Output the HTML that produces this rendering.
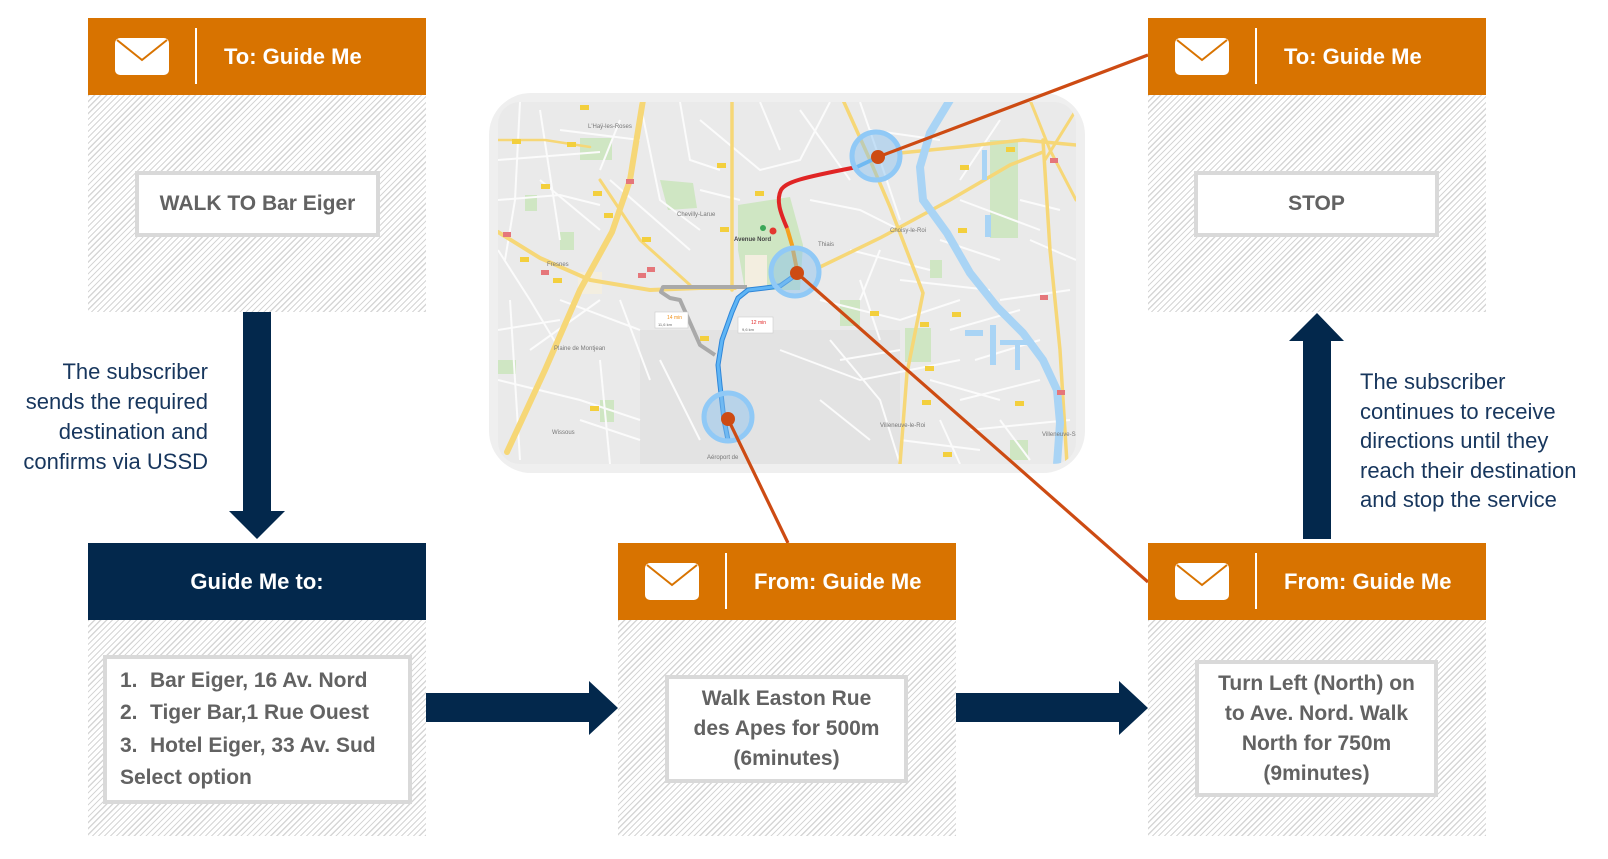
<!DOCTYPE html>
<html><head><meta charset="utf-8">
<style>
*{box-sizing:border-box}
body{margin:0;width:1608px;height:859px;position:relative;background:#fff;overflow:hidden;font-family:"Liberation Sans",Arial,sans-serif}
.hdr{position:absolute;width:338px;height:77px;background:#d87300;color:#fff;font-weight:bold;font-size:22px}
.hdr.navy{background:#03284c;text-align:center;line-height:77px}
.hdr .env{position:absolute;left:27px;top:20px}
.hdr .div{position:absolute;left:107px;top:10px;width:2px;height:56px;background:#fff}
.hdr .t{position:absolute;left:136px;top:0;line-height:77px;white-space:nowrap}
.hatch{position:absolute;width:338px;background:repeating-linear-gradient(135deg,#d6d6d6 0 1.2px,#fff 1.2px 4.2px)}
.ib{position:absolute;background:#fff;border:4px solid #d9d9d9;color:#626262;font-weight:bold;font-size:21px;display:flex;align-items:center;justify-content:center;text-align:center;white-space:nowrap}
.desc{position:absolute;color:#17365d;font-size:22px;white-space:nowrap}
</style></head><body>

<svg width="1608" height="859" style="position:absolute;left:0;top:0" xmlns="http://www.w3.org/2000/svg">
<defs>
<clipPath id="mc"><rect x="498" y="102" width="578" height="362" rx="22"/></clipPath>
</defs>
<rect x="489" y="93" width="596" height="380" rx="42" fill="#efefef"/>
<g clip-path="url(#mc)">
<rect x="498" y="102" width="578" height="362" fill="#eaeaea"/>
<rect x="640" y="330" width="260" height="134" fill="#e3e3e3"/>
<g fill="#cfe6c3">
<polygon points="738,205 790,197 803,245 800,290 745,290 738,250"/>
<rect x="580" y="138" width="32" height="22"/>
<polygon points="660,180 693,183 697,208 668,210"/>
<rect x="990" y="140" width="28" height="98"/>
<rect x="905" y="328" width="26" height="34"/>
<rect x="560" y="232" width="14" height="18"/>
<rect x="498" y="360" width="18" height="14"/>
<rect x="840" y="300" width="20" height="26"/>
<rect x="600" y="400" width="14" height="22"/>
<rect x="525" y="195" width="12" height="16"/>
<rect x="1010" y="440" width="18" height="20"/>
<rect x="930" y="260" width="12" height="18"/>
</g>
<rect x="745" y="255" width="22" height="32" fill="#f3eee0"/>
<rect x="578" y="272" width="24" height="22" fill="#f3eee0"/>
<g stroke="#fbfbfb" stroke-width="2" fill="none">
<path d="M498,160 L600,152"/><path d="M498,200 L560,195 L600,205"/>
<path d="M520,102 L515,200 L505,260"/><path d="M540,110 L560,240"/>
<path d="M560,300 L640,330"/><path d="M498,330 L560,320"/>
<path d="M498,380 L580,400 L640,420"/><path d="M510,300 L520,460"/>
<path d="M600,360 L610,464"/><path d="M640,102 L660,200 L700,230"/>
<path d="M680,102 L690,160 L720,170"/><path d="M700,120 L760,170 L800,160 L830,102"/>
<path d="M760,102 L780,150"/><path d="M810,200 L860,210 L900,230"/>
<path d="M820,300 L900,320 L960,300"/><path d="M830,340 L880,400 L900,464"/>
<path d="M780,350 L860,380 L960,360"/><path d="M900,280 L990,290"/>
<path d="M960,400 L1040,380"/><path d="M970,430 L1070,420"/>
<path d="M1000,300 L1070,290"/><path d="M860,102 L880,160 L900,220"/>
<path d="M940,240 L1000,260"/><path d="M1020,200 L1060,210"/>
<path d="M1030,240 L1076,260"/><path d="M560,130 L640,140"/>
<path d="M610,180 L690,250"/><path d="M530,350 L600,300"/>
<path d="M660,360 L700,440"/><path d="M820,400 L870,440"/>
<path d="M930,380 L1000,400"/><path d="M960,180 L1000,120"/>
<path d="M850,250 L930,270"/><path d="M870,130 L940,140"/>
<path d="M800,110 L850,180"/><path d="M580,420 L640,440"/>
<path d="M950,330 L1020,310"/><path d="M900,440 L980,450"/>
<path d="M498,250 L530,300 L560,350"/><path d="M540,180 L600,230"/>
<path d="M620,300 L650,380"/><path d="M860,280 L880,340"/>
<path d="M940,420 L960,464"/><path d="M1000,420 L1030,460"/>
<path d="M960,200 L1040,230"/><path d="M880,250 L860,300"/>
<path d="M620,120 L600,170"/><path d="M700,190 L740,200"/>
<path d="M840,360 L900,350"/><path d="M975,360 L1040,340"/>
</g>
<g stroke="#f6d777" fill="none" stroke-linecap="round">
<path d="M507,452 L545,370 L580,290 L612,232 L630,180 L643,100" stroke-width="6"/>
<path d="M498,232 L540,258 L590,280 L650,290 L700,288 L735,288" stroke-width="4"/>
<path d="M732,100 L732,290" stroke-width="3.5"/>
<path d="M498,140 L545,140 L590,147" stroke-width="2.5"/>
<path d="M600,180 L640,240 L690,285" stroke-width="3"/>
<path d="M820,267 L880,238 L950,200 L1010,165 L1043,152" stroke-width="3.5"/>
<path d="M1043,140 L1050,250 L1060,350 L1067,464" stroke-width="3.5"/>
<path d="M843,100 L870,160 L890,207 L923,293 L907,373 L900,464" stroke-width="3.5"/>
<path d="M900,153 L960,147 L1023,140 L1076,145" stroke-width="3.5"/>
<path d="M1030,100 L1050,150 L1076,200" stroke-width="3"/>
<path d="M1076,110 L1045,160" stroke-width="3"/>
</g>
<path d="M950,100 L930,133 L920,167 L923,200 L947,233 L970,273 L997,307 L1023,333 L1043,360 L1057,390 L1060,423 L1057,464" stroke="#a9d4f5" stroke-width="8" fill="none"/>
<g fill="#a9d4f5">
<rect x="990" y="325" width="6" height="40"/><rect x="1000" y="340" width="30" height="5"/>
<rect x="1015" y="345" width="5" height="25"/><rect x="965" y="330" width="18" height="6"/>
<rect x="985" y="215" width="6" height="22"/><rect x="982" y="150" width="5" height="30"/>
</g>
<g fill="#f3cf3d">
<rect x="580" y="105" width="9" height="5"/><rect x="512" y="139" width="9" height="5"/>
<rect x="567" y="142" width="9" height="5"/><rect x="541" y="184" width="9" height="5"/>
<rect x="593" y="191" width="9" height="5"/><rect x="604" y="213" width="9" height="5"/>
<rect x="642" y="237" width="9" height="5"/><rect x="720" y="227" width="9" height="5"/>
<rect x="717" y="163" width="9" height="5"/><rect x="755" y="191" width="9" height="5"/>
<rect x="520" y="257" width="9" height="5"/><rect x="553" y="278" width="9" height="5"/>
<rect x="870" y="311" width="9" height="5"/><rect x="920" y="322" width="9" height="5"/>
<rect x="925" y="366" width="9" height="5"/><rect x="952" y="312" width="9" height="5"/>
<rect x="960" y="165" width="9" height="5"/><rect x="1006" y="147" width="9" height="5"/>
<rect x="958" y="228" width="9" height="5"/><rect x="1015" y="401" width="9" height="5"/>
<rect x="922" y="400" width="9" height="5"/><rect x="700" y="336" width="9" height="5"/>
<rect x="590" y="406" width="9" height="5"/><rect x="943" y="452" width="9" height="5"/>
</g>
<g fill="#e5767a">
<rect x="626" y="179" width="8" height="5"/><rect x="503" y="232" width="8" height="5"/>
<rect x="638" y="273" width="8" height="5"/><rect x="647" y="267" width="8" height="5"/>
<rect x="541" y="270" width="8" height="5"/><rect x="1050" y="158" width="8" height="5"/>
<rect x="1040" y="295" width="8" height="5"/><rect x="1057" y="390" width="8" height="5"/>
</g>
<g font-family="Liberation Sans,sans-serif" font-size="6" fill="#777">
<text x="588" y="128">L'Haÿ-les-Roses</text>
<text x="677" y="216">Chevilly-Larue</text>
<text x="547" y="266">Fresnes</text>
<text x="818" y="246">Thiais</text>
<text x="890" y="232">Choisy-le-Roi</text>
<text x="554" y="350">Plaine de Montjean</text>
<text x="552" y="434">Wissous</text>
<text x="707" y="459">Aéroport de</text>
<text x="880" y="427">Villeneuve-le-Roi</text>
<text x="1042" y="436">Villeneuve-Sai</text>
</g>
<text x="734" y="241" font-family="Liberation Sans,sans-serif" font-size="6" font-weight="bold" fill="#444">Avenue Nord</text>
<circle cx="763" cy="228" r="3" fill="#3aa757"/>
<circle cx="773" cy="231" r="3.5" fill="#e3372e"/>
<path d="M747,287 L700,287 L663,287 L661,292 L670,298 L680,300 L700,345 L715,355" stroke="#a9a9a9" stroke-width="4" fill="none" stroke-linejoin="round"/>
<path d="M728,440 L724,420 L720,385 L718,365 L722,340 L732,312 L738,298 L748,290 L765,288 L780,286 L797,274" stroke="#2f86d8" stroke-width="5" fill="none" stroke-linejoin="round"/>
<path d="M728,440 L724,420 L720,385 L718,365 L722,340 L732,312 L738,298 L748,290 L765,288 L780,286 L797,274" stroke="#5fb5f5" stroke-width="3" fill="none" stroke-linejoin="round"/>
<path d="M797,270 L792,245 L787,228" stroke="#f4a11f" stroke-width="4" fill="none"/>
<path d="M787,228 C780,212 776,200 781,190 C786,182 800,178 857,167" stroke="#e02525" stroke-width="4" fill="none"/>
<path d="M857,167 L876,158" stroke="#5fb5f5" stroke-width="4" fill="none"/>
<rect x="655" y="312" width="33" height="16" fill="#fff" stroke="#ccc" stroke-width="0.6"/>
<text x="667" y="319" font-family="Liberation Sans,sans-serif" font-size="5" fill="#f0931e">14 min</text>
<text x="658" y="326" font-family="Liberation Sans,sans-serif" font-size="4" fill="#666">11,6 km</text>
<rect x="738" y="317" width="35" height="16" fill="#fff" stroke="#ccc" stroke-width="0.6"/>
<text x="751" y="324" font-family="Liberation Sans,sans-serif" font-size="5" fill="#e02525">12 min</text>
<text x="742" y="331" font-family="Liberation Sans,sans-serif" font-size="4" fill="#666">9,6 km</text>
<g fill="rgba(130,190,240,0.45)" stroke="#90c9f6" stroke-width="5">
<circle cx="876" cy="156" r="24"/>
<circle cx="795" cy="272" r="24"/>
<circle cx="728" cy="417" r="24"/>
</g>
</g>
<g stroke="#cd4b13" stroke-width="3.2" fill="none">
<line x1="878" y1="157" x2="1148" y2="55"/>
<line x1="797" y1="273" x2="1148" y2="582"/>
<line x1="728" y1="419" x2="788" y2="543"/>
</g>
<g fill="#cd4b13">
<circle cx="878" cy="157" r="7"/>
<circle cx="797" cy="273" r="7"/>
<circle cx="728" cy="419" r="7"/>
</g>
<g fill="#03284c">
<polygon points="243,312 271,312 271,511 285,511 257,539 229,511 243,511"/>
<polygon points="1303,539 1331,539 1331,341 1344,341 1317,313 1289,341 1303,341"/>
<polygon points="426,693 589,693 589,681 618,708 589,735 589,722 426,722"/>
<polygon points="956,693 1119,693 1119,681 1148,708 1119,735 1119,722 956,722"/>
</g>
</svg>

<div class="hdr" style="left:88px;top:18px">
<svg class="env" width="54" height="37"><rect width="54" height="37" rx="5" fill="#fff"/><polyline points="2,2 27,22 52,2" fill="none" stroke="#d87300" stroke-width="2"/></svg>
<div class="div"></div><div class="t">To: Guide Me</div></div>
<div class="hatch" style="left:88px;top:95px;height:217px"></div>
<div class="ib" style="left:135px;top:171px;width:245px;height:66px">WALK TO Bar Eiger</div>

<div class="hdr" style="left:1148px;top:18px">
<svg class="env" width="54" height="37"><rect width="54" height="37" rx="5" fill="#fff"/><polyline points="2,2 27,22 52,2" fill="none" stroke="#d87300" stroke-width="2"/></svg>
<div class="div"></div><div class="t">To: Guide Me</div></div>
<div class="hatch" style="left:1148px;top:95px;height:217px"></div>
<div class="ib" style="left:1194px;top:171px;width:245px;height:66px">STOP</div>

<div class="hdr navy" style="left:88px;top:543px">Guide Me to:</div>
<div class="hatch" style="left:88px;top:620px;height:216px"></div>
<div class="ib" style="left:103px;top:655px;width:309px;height:149px;justify-content:flex-start;text-align:left;padding-left:13px;line-height:32.5px">
<div><span style="display:inline-block;width:30px">1.</span>Bar Eiger, 16 Av. Nord<br><span style="display:inline-block;width:30px">2.</span>Tiger Bar,1 Rue Ouest<br><span style="display:inline-block;width:30px">3.</span>Hotel Eiger, 33 Av. Sud<br>Select option</div></div>

<div class="hdr" style="left:618px;top:543px">
<svg class="env" width="54" height="37"><rect width="54" height="37" rx="5" fill="#fff"/><polyline points="2,2 27,22 52,2" fill="none" stroke="#d87300" stroke-width="2"/></svg>
<div class="div"></div><div class="t">From: Guide Me</div></div>
<div class="hatch" style="left:618px;top:620px;height:216px"></div>
<div class="ib" style="left:665px;top:675px;width:243px;height:108px;line-height:30px">
<div>Walk Easton Rue<br>des Apes for 500m<br>(6minutes)</div></div>

<div class="hdr" style="left:1148px;top:543px">
<svg class="env" width="54" height="37"><rect width="54" height="37" rx="5" fill="#fff"/><polyline points="2,2 27,22 52,2" fill="none" stroke="#d87300" stroke-width="2"/></svg>
<div class="div"></div><div class="t">From: Guide Me</div></div>
<div class="hatch" style="left:1148px;top:620px;height:216px"></div>
<div class="ib" style="left:1195px;top:660px;width:243px;height:137px;line-height:30px">
<div>Turn Left (North) on<br>to Ave. Nord. Walk<br>North for 750m<br>(9minutes)</div></div>

<div class="desc" style="right:1400px;top:357px;line-height:30px;text-align:right">The subscriber<br>sends the required<br>destination and<br>confirms via USSD</div>
<div class="desc" style="left:1360px;top:367px;line-height:29.5px">The subscriber<br>continues to receive<br>directions until they<br>reach their destination<br>and stop the service</div>

</body></html>
